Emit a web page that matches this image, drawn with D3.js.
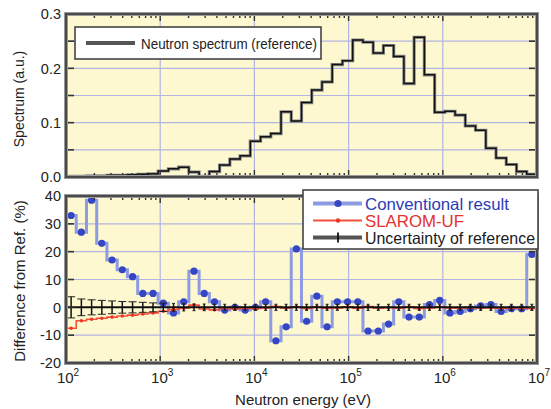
<!DOCTYPE html>
<html><head><meta charset="utf-8">
<script src="https://cdn.jsdelivr.net/npm/d3@7"></script>
<style>body{margin:0;background:#fff}svg{display:block}</style>
</head><body>
<svg id="c" width="551" height="409"></svg>
<script>
// Group boundaries (eV)
const energyBounds = [100,128.4,165.0,211.9,272.1,349.5,449.0,576.7,740.7,951.3,
 1222,1569,2016,2589,3325,4271,5485,7045,9049,11620,
 14930,19170,24620,31620,40610,52170,67000,86050,110500,142000,
 182400,234200,300800,386400,496300,637400,818700,1051000,1350000,1734000,
 2227000,2861000,3674000,4719000,6061000,7785000,10000000];
// Neutron spectrum (reference), a.u.
const spectrum = [0.001,0.001,0.002,0.002,0.003,0.003,0.004,0.005,0.006,0.011,
 0.015,0.018,0.009,0.001,0.010,0.022,0.033,0.039,0.066,0.074,
 0.080,0.120,0.103,0.137,0.160,0.175,0.207,0.214,0.252,0.248,
 0.228,0.242,0.222,0.172,0.257,0.188,0.119,0.121,0.114,0.094,
 0.086,0.053,0.035,0.023,0.010,0.005];
// Difference from reference (%)
const conventional = [33,27,38.5,23,17,13.5,11,5,5,1.5,
 -2,2,13,5,2,-1,0,-1,0,2,
 -12,-7,21,-5,4,-7,2,2,2,-8.5,
 -8.5,-6,2,-3.5,-3.5,1,2.5,-2,-1.5,-0.5,
 0.5,1,-1.5,-0.5,-0.5,19];
const slaromUF = [-7.5,-4.8,-4.3,-3.9,-3.5,-3.1,-2.8,-2.4,-2.0,-1.4,
 -0.8,-0.3,0.8,-0.6,-0.9,-0.4,-0.6,-0.3,-0.4,-0.2,
 0.3,-0.3,0.2,-0.4,0.2,-0.3,-0.2,0.2,-0.3,0.3,
 -0.3,-0.1,-0.3,0.2,-0.4,-0.2,0.1,-0.2,-0.3,-0.1,
 -0.2,-0.2,-0.3,-0.2,-0.3,-0.4];
const uncertainty = [3.8,3.0,2.7,2.5,2.3,2.1,2.0,1.8,1.6,1.5,
 1.4,1.3,1.2,1.2,1.1,1.1,1.1,1.1,1.1,1.1,
 1.1,1.1,1.1,1.1,1.1,1.1,1.1,1.1,1.1,1.1,
 1.1,1.1,1.1,1.1,1.1,1.1,1.1,1.1,1.1,1.1,
 1.1,1.1,1.1,1.1,1.1,1.1];
const xTickExps = [2,3,4,5,6,7];
const yTicksTop = [0,0.1,0.2,0.3];
const yTickLabelsTop = ["0.0","0.1","0.2","0.3"];
const yGridTop = [0.05,0.1,0.15,0.2,0.25];
const yTicksBottom = [-20,-10,0,10,20,30,40];
const yGridBottom = [-10,10,20,30];

const svg = d3.select("#c");
const FONT = "'Liberation Sans', Arial, Helvetica, sans-serif";
const BG = "#fdf8cf", GRID = "#b4b4e2", FRAME = "#4a4a4a";
const x = d3.scaleLog().domain([1e2,1e7]).range([66,537]);
const yT = d3.scaleLinear().domain([0,0.3]).range([177,14]);
const yB = d3.scaleLinear().domain([-20,40]).range([363,196]);

const mids = spectrum.map((d,i)=>Math.sqrt(energyBounds[i]*energyBounds[i+1]));
const stepPts = vals => energyBounds.map((e,i)=>[e, vals[Math.min(i, vals.length-1)]]);

function panel(y, gridVals, clipId){
  const [r0,r1] = y.range();
  const g = svg.append("g");
  g.append("rect").attr("x",66).attr("y",r1).attr("width",471).attr("height",r0-r1).attr("fill",BG);
  g.selectAll(".hg").data(gridVals).join("line")
    .attr("x1",66).attr("x2",537).attr("y1",d=>y(d)).attr("y2",d=>y(d))
    .attr("stroke",GRID).attr("stroke-width",1.2);
  g.selectAll(".vg").data(xTickExps.slice(1,-1)).join("line")
    .attr("x1",d=>x(Math.pow(10,d))).attr("x2",d=>x(Math.pow(10,d)))
    .attr("y1",r1).attr("y2",r0).attr("stroke",GRID).attr("stroke-width",1.2);
  svg.append("clipPath").attr("id",clipId).append("rect")
    .attr("x",66).attr("y",r1).attr("width",471).attr("height",r0-r1);
  return g;
}
function frame(y, yTickVals, yMinor){
  const [r0,r1] = y.range();
  const g = svg.append("g");
  const ticks = x.ticks();
  ticks.forEach(t=>{
    const major = Math.abs(Math.log10(t)-Math.round(Math.log10(t)))<1e-9;
    const L = major?7:4;
    g.append("line").attr("x1",x(t)).attr("x2",x(t)).attr("y1",r0).attr("y2",r0-L).attr("stroke","#333").attr("stroke-width",1.4);
    g.append("line").attr("x1",x(t)).attr("x2",x(t)).attr("y1",r1).attr("y2",r1+L).attr("stroke","#333").attr("stroke-width",1.4);
  });
  yTickVals.concat(yMinor).forEach(v=>{
    g.append("line").attr("x1",66).attr("x2",74).attr("y1",y(v)).attr("y2",y(v)).attr("stroke","#333").attr("stroke-width",1.6);
    g.append("line").attr("x1",537).attr("x2",529).attr("y1",y(v)).attr("y2",y(v)).attr("stroke","#333").attr("stroke-width",1.6);
  });
  g.append("rect").attr("x",66).attr("y",r1).attr("width",471).attr("height",r0-r1)
    .attr("fill","none").attr("stroke","#9a9a9a").attr("stroke-width",4);
  g.append("rect").attr("x",66).attr("y",r1).attr("width",471).attr("height",r0-r1)
    .attr("fill","none").attr("stroke",FRAME).attr("stroke-width",2);
}

// ---------- Top panel ----------
panel(yT, yGridTop, "clipT");
const lineT = d3.line().x(d=>x(d[0])).y(d=>yT(d[1])).curve(d3.curveStepAfter);
const gT = svg.append("g").attr("clip-path","url(#clipT)");
gT.append("path").attr("d",lineT(stepPts(spectrum))).attr("fill","none").attr("stroke","#8a8a8a").attr("stroke-width",3.2);
gT.append("path").attr("d",lineT(stepPts(spectrum))).attr("fill","none").attr("stroke","#111").attr("stroke-width",1.5);
frame(yT, yTicksTop, [0.05,0.15,0.25]);

// ---------- Bottom panel ----------
panel(yB, yGridBottom, "clipB");
const lineB = d3.line().x(d=>x(d[0])).y(d=>yB(d[1])).curve(d3.curveStepAfter);
const gB = svg.append("g").attr("clip-path","url(#clipB)");
// conventional
gB.append("path").attr("d",lineB(stepPts(conventional))).attr("fill","none").attr("stroke","#8d9be0").attr("stroke-width",3);
gB.selectAll(".cm").data(conventional).join("circle")
  .attr("cx",(d,i)=>x(mids[i])).attr("cy",d=>yB(d)).attr("r",3.6).attr("fill","#3546c4");
// SLAROM-UF
gB.append("path").attr("d",lineB(stepPts(slaromUF))).attr("fill","none").attr("stroke","#f5503c").attr("stroke-width",1.6);
gB.selectAll(".sm").data(slaromUF).join("circle")
  .attr("cx",(d,i)=>x(mids[i])).attr("cy",d=>yB(d)).attr("r",1.8).attr("fill","#ef3524");
// uncertainty of reference
gB.append("line").attr("x1",x(1e2)).attr("x2",x(1e7)).attr("y1",yB(0)).attr("y2",yB(0)).attr("stroke","#111").attr("stroke-width",2);
gB.selectAll(".ub").data(uncertainty).join("line")
  .attr("x1",(d,i)=>x(mids[i])).attr("x2",(d,i)=>x(mids[i]))
  .attr("y1",d=>yB(-d)).attr("y2",d=>yB(d)).attr("stroke","#111").attr("stroke-width",1.5);
gB.selectAll(".uc1").data(uncertainty).join("line")
  .attr("x1",(d,i)=>x(mids[i])-(i<10?4:1.5)).attr("x2",(d,i)=>x(mids[i])+(i<10?4:1.5))
  .attr("y1",d=>yB(d)).attr("y2",d=>yB(d)).attr("stroke","#222").attr("stroke-width",1);
gB.selectAll(".uc2").data(uncertainty).join("line")
  .attr("x1",(d,i)=>x(mids[i])-(i<10?4:1.5)).attr("x2",(d,i)=>x(mids[i])+(i<10?4:1.5))
  .attr("y1",d=>yB(-d)).attr("y2",d=>yB(-d)).attr("stroke","#222").attr("stroke-width",1);
frame(yB, yTicksBottom, []);

// ---------- Tick labels ----------
svg.selectAll(".ytl").data(yTicksTop).join("text")
  .attr("x",61).attr("y",d=>yT(d)).attr("dy","0.36em").attr("text-anchor","end")
  .attr("font-family",FONT).attr("font-size",14.5).attr("fill","#222")
  .text((d,i)=>yTickLabelsTop[i]);
svg.selectAll(".ybl").data(yTicksBottom).join("text")
  .attr("x",61).attr("y",d=>yB(d)).attr("dy","0.36em").attr("text-anchor","end")
  .attr("font-family",FONT).attr("font-size",14.5).attr("fill","#222")
  .text(d=>d);
const xl = svg.selectAll(".xtl").data(xTickExps).join("text")
  .attr("x",d=>x(Math.pow(10,d))+2).attr("y",383).attr("text-anchor","middle")
  .attr("font-family",FONT).attr("font-size",15).attr("fill","#222");
xl.append("tspan").text("10");
xl.append("tspan").attr("dy",-7).attr("font-size",10).text(d=>d);

// ---------- Axis titles ----------
svg.append("text").attr("transform","translate(24,99) rotate(-90)").attr("text-anchor","middle")
  .attr("font-family",FONT).attr("font-size",14).attr("fill","#222").text("Spectrum (a.u.)");
svg.append("text").attr("transform","translate(25,281) rotate(-90)").attr("text-anchor","middle")
  .attr("font-family",FONT).attr("font-size",15).attr("fill","#222").text("Difference from Ref. (%)");
svg.append("text").attr("x",303).attr("y",405).attr("text-anchor","middle")
  .attr("font-family",FONT).attr("font-size",15).attr("fill","#222").text("Neutron energy (eV)");

// ---------- Legends ----------
const lt = svg.append("g");
lt.append("rect").attr("x",75).attr("y",27).attr("width",246).attr("height",32)
  .attr("fill","#fff").attr("stroke","#444").attr("stroke-width",1.6);
lt.append("line").attr("x1",86).attr("x2",135).attr("y1",43).attr("y2",43).attr("stroke","#555").attr("stroke-width",4);
lt.append("text").attr("x",141).attr("y",48.5).attr("font-family",FONT).attr("font-size",15.5)
  .attr("textLength",176).attr("lengthAdjust","spacingAndGlyphs").attr("fill","#222").text("Neutron spectrum (reference)");

const lb = svg.append("g");
lb.append("rect").attr("x",303).attr("y",190).attr("width",235).attr("height",59)
  .attr("fill","#fff").attr("stroke","#444").attr("stroke-width",1.6);
const legItems = [
  {name:"Conventional result", line:"#8d9be0", lw:4, txt:"#2b3bb5", len:144},
  {name:"SLAROM-UF", line:"#f5503c", lw:1.8, txt:"#e8302c", len:99},
  {name:"Uncertainty of reference", line:"#555", lw:4, txt:"#1a1a1a", len:170}
];
legItems.forEach((it,i)=>{
  const yy = 203.5 + i*17;
  lb.append("line").attr("x1",313).attr("x2",362).attr("y1",yy).attr("y2",yy).attr("stroke",it.line).attr("stroke-width",it.lw);
  if(i===0) lb.append("circle").attr("cx",338).attr("cy",yy).attr("r",3.6).attr("fill","#3546c4");
  if(i===1) lb.append("circle").attr("cx",338).attr("cy",yy).attr("r",2.2).attr("fill","#ef3524");
  if(i===2) lb.append("line").attr("x1",338).attr("x2",338).attr("y1",yy-5).attr("y2",yy+5).attr("stroke","#111").attr("stroke-width",1.8);
  lb.append("text").attr("x",365).attr("y",yy+6).attr("font-family",FONT).attr("font-size",16.5)
    .attr("textLength",it.len).attr("lengthAdjust","spacingAndGlyphs").attr("fill",it.txt).text(it.name);
});
</script>
</body></html>
